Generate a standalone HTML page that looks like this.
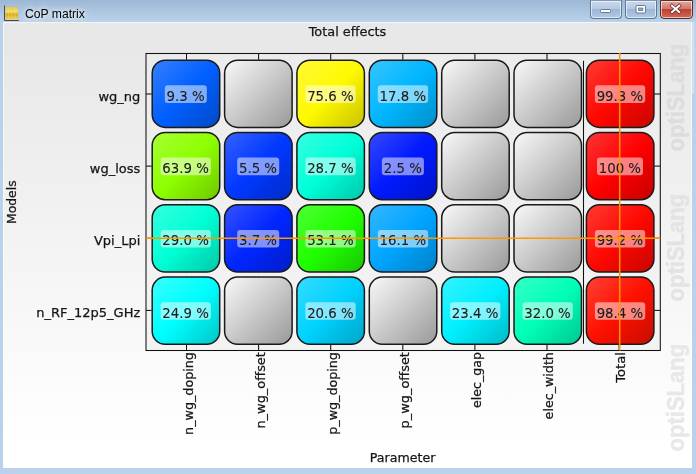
<!DOCTYPE html>
<html><head><meta charset="utf-8"><title>CoP matrix</title>
<style>
html,body{margin:0;padding:0;}
body{width:696px;height:474px;overflow:hidden;background:#b9d1ea;position:relative;font-family:"Liberation Sans",sans-serif;}
#titlebar{position:absolute;left:0;top:0;width:696px;height:22px;background:linear-gradient(#9cb8d6 0,#b9d1ea 21px);}
#title{position:absolute;left:25px;top:5.8px;font-size:12.15px;line-height:16px;color:#000;text-shadow:0 0 5px #fff,0 0 8px #fff;}
#content{position:absolute;left:3px;top:22px;width:689px;height:446.2px;background:linear-gradient(#e8e8e8 0,#e8e8e8 30px,#ffffff 420px);box-shadow:inset 0 0 0 1px rgba(255,255,255,0.55);}
.btn{position:absolute;top:0.4px;height:18.2px;border:1px solid #5f7896;border-top:1px solid #7f98b8;border-radius:0 0 4px 4px;box-sizing:border-box;background:linear-gradient(#c9d9ec 0,#b4c9e2 45%,#9db7d6 50%,#b2c9e3 100%);box-shadow:inset 0 0 0 1px rgba(255,255,255,0.6);}
#bmin{left:589.5px;width:32.4px;}
#bmax{left:624.7px;width:32.2px;}
#bclose{left:660px;width:32.6px;border-color:#5d2a25;background:linear-gradient(#e3a99f 0,#d3786c 45%,#c0402f 50%,#cf6a55 100%);}
svg{position:absolute;left:0;top:0;}
svg text{font-family:"DejaVu Sans","Liberation Sans",sans-serif;font-size:13px;fill:#151515;stroke:#151515;stroke-width:0.25px;}
</style></head><body>
<div id="titlebar"></div>
<div id="content"></div>
<div style="position:absolute;left:692px;top:22px;width:3px;height:72px;background:linear-gradient(90deg,#d3e2f3,#c3d7ee)"></div>
<div id="title">CoP matrix</div>
<div class="btn" id="bmin"></div><div class="btn" id="bmax"></div><div class="btn" id="bclose"></div>
<svg width="696" height="474" viewBox="0 0 696 474">
<defs>
<linearGradient id="ico" x1="0" y1="0" x2="0" y2="1"><stop offset="0" stop-color="#e8c23a"/><stop offset="0.35" stop-color="#f3df6e"/><stop offset="0.6" stop-color="#d9a91e"/><stop offset="1" stop-color="#f0d45a"/></linearGradient>
<linearGradient id="gg" x1="0" y1="0" x2="1" y2="1"><stop offset="0" stop-color="#f9f9f9"/><stop offset="0.5" stop-color="#c9c9c9"/><stop offset="1" stop-color="#999999"/></linearGradient>
<linearGradient id="g0_0" x1="0" y1="0" x2="1" y2="1"><stop offset="0" stop-color="#3680ff"/><stop offset="0.5" stop-color="#005fff"/><stop offset="1" stop-color="#004ac7"/></linearGradient>
<linearGradient id="g0_2" x1="0" y1="0" x2="1" y2="1"><stop offset="0" stop-color="#fffa36"/><stop offset="0.5" stop-color="#fff900"/><stop offset="1" stop-color="#c7c200"/></linearGradient>
<linearGradient id="g0_3" x1="0" y1="0" x2="1" y2="1"><stop offset="0" stop-color="#36c5ff"/><stop offset="0.5" stop-color="#00b6ff"/><stop offset="1" stop-color="#008ec7"/></linearGradient>
<linearGradient id="g0_6" x1="0" y1="0" x2="1" y2="1"><stop offset="0" stop-color="#ff3b36"/><stop offset="0.5" stop-color="#ff0700"/><stop offset="1" stop-color="#c70600"/></linearGradient>
<linearGradient id="g1_0" x1="0" y1="0" x2="1" y2="1"><stop offset="0" stop-color="#a6ff36"/><stop offset="0.5" stop-color="#8eff00"/><stop offset="1" stop-color="#6fc700"/></linearGradient>
<linearGradient id="g1_1" x1="0" y1="0" x2="1" y2="1"><stop offset="0" stop-color="#3662ff"/><stop offset="0.5" stop-color="#0038ff"/><stop offset="1" stop-color="#002cc7"/></linearGradient>
<linearGradient id="g1_2" x1="0" y1="0" x2="1" y2="1"><stop offset="0" stop-color="#36ffe1"/><stop offset="0.5" stop-color="#00ffd9"/><stop offset="1" stop-color="#00c7a9"/></linearGradient>
<linearGradient id="g1_3" x1="0" y1="0" x2="1" y2="1"><stop offset="0" stop-color="#364aff"/><stop offset="0.5" stop-color="#0019ff"/><stop offset="1" stop-color="#0014c7"/></linearGradient>
<linearGradient id="g1_6" x1="0" y1="0" x2="1" y2="1"><stop offset="0" stop-color="#ff3636"/><stop offset="0.5" stop-color="#ff0000"/><stop offset="1" stop-color="#c70000"/></linearGradient>
<linearGradient id="g2_0" x1="0" y1="0" x2="1" y2="1"><stop offset="0" stop-color="#36ffdf"/><stop offset="0.5" stop-color="#00ffd6"/><stop offset="1" stop-color="#00c7a7"/></linearGradient>
<linearGradient id="g2_1" x1="0" y1="0" x2="1" y2="1"><stop offset="0" stop-color="#3653ff"/><stop offset="0.5" stop-color="#0026ff"/><stop offset="1" stop-color="#001dc7"/></linearGradient>
<linearGradient id="g2_2" x1="0" y1="0" x2="1" y2="1"><stop offset="0" stop-color="#4fff36"/><stop offset="0.5" stop-color="#20ff00"/><stop offset="1" stop-color="#19c700"/></linearGradient>
<linearGradient id="g2_3" x1="0" y1="0" x2="1" y2="1"><stop offset="0" stop-color="#36b7ff"/><stop offset="0.5" stop-color="#00a4ff"/><stop offset="1" stop-color="#0080c7"/></linearGradient>
<linearGradient id="g2_6" x1="0" y1="0" x2="1" y2="1"><stop offset="0" stop-color="#ff3c36"/><stop offset="0.5" stop-color="#ff0800"/><stop offset="1" stop-color="#c70600"/></linearGradient>
<linearGradient id="g3_0" x1="0" y1="0" x2="1" y2="1"><stop offset="0" stop-color="#36feff"/><stop offset="0.5" stop-color="#00feff"/><stop offset="1" stop-color="#00c6c7"/></linearGradient>
<linearGradient id="g3_2" x1="0" y1="0" x2="1" y2="1"><stop offset="0" stop-color="#36dcff"/><stop offset="0.5" stop-color="#00d2ff"/><stop offset="1" stop-color="#00a4c7"/></linearGradient>
<linearGradient id="g3_4" x1="0" y1="0" x2="1" y2="1"><stop offset="0" stop-color="#36f2ff"/><stop offset="0.5" stop-color="#00efff"/><stop offset="1" stop-color="#00bac7"/></linearGradient>
<linearGradient id="g3_5" x1="0" y1="0" x2="1" y2="1"><stop offset="0" stop-color="#36ffc7"/><stop offset="0.5" stop-color="#00ffb8"/><stop offset="1" stop-color="#00c78f"/></linearGradient>
<linearGradient id="g3_6" x1="0" y1="0" x2="1" y2="1"><stop offset="0" stop-color="#ff4236"/><stop offset="0.5" stop-color="#ff1000"/><stop offset="1" stop-color="#c70d00"/></linearGradient>
</defs>
<!-- window icon -->
<g>
<rect x="5.5" y="7" width="12.5" height="12.5" fill="url(#ico)"/>
<path d="M8.6 7V19.5M11.7 7V19.5M14.8 7V19.5" stroke="#f6e27a" stroke-width="0.6" fill="none" opacity="0.8"/>
<path d="M4.5 5.5V20.5H18.8" stroke="#4a4a50" stroke-width="1" fill="none"/>
</g>
<!-- caption button glyphs -->
<g>
<rect x="600.5" y="9.5" width="10" height="3" rx="1" fill="#fff" stroke="#4b5f7c" stroke-width="0.8"/>
<rect x="636" y="5.5" width="9.5" height="7.5" rx="1" fill="#fff" stroke="#4b5f7c" stroke-width="0.8"/>
<rect x="638.6" y="8" width="4.3" height="2.6" fill="#8fa8c8" stroke="#4b5f7c" stroke-width="0.6"/>
<path d="M672 5.7L679.2 12M679.2 5.7L672 12" stroke="#5a2620" stroke-width="3.4" stroke-linecap="square" fill="none"/>
<path d="M672 5.7L679.2 12M679.2 5.7L672 12" stroke="#fff" stroke-width="2.1" stroke-linecap="square" fill="none"/>
</g>
<!-- watermark -->
<g style="font-family:'Liberation Sans',sans-serif;font-weight:bold">
<text transform="translate(684.0,151.4) rotate(-90)" textLength="107.6" lengthAdjust="spacingAndGlyphs" style="font-family:'Liberation Sans',sans-serif;font-weight:bold;font-size:23.5px;fill:#dddddd;stroke:#dddddd;stroke-width:0.5px">optiSLang</text>
<text transform="translate(684.0,301.4) rotate(-90)" textLength="107.6" lengthAdjust="spacingAndGlyphs" style="font-family:'Liberation Sans',sans-serif;font-weight:bold;font-size:23.5px;fill:#e3e3e3;stroke:#e3e3e3;stroke-width:0.5px">optiSLang</text>
<text transform="translate(684.0,451.4) rotate(-90)" textLength="107.6" lengthAdjust="spacingAndGlyphs" style="font-family:'Liberation Sans',sans-serif;font-weight:bold;font-size:23.5px;fill:#e8e8e8;stroke:#e8e8e8;stroke-width:0.5px">optiSLang</text>
</g>
<!-- plot frame -->
<rect x="146.0" y="53.5" width="514.3" height="297.0" fill="#efefef" fill-opacity="0.55" stroke="#111" stroke-width="1.05"/>
<g stroke="#000" stroke-opacity="0.035" stroke-width="1">
<line x1="186.5" y1="54.0" x2="186.5" y2="350.0"/>
<line x1="258.6" y1="54.0" x2="258.6" y2="350.0"/>
<line x1="330.7" y1="54.0" x2="330.7" y2="350.0"/>
<line x1="402.8" y1="54.0" x2="402.8" y2="350.0"/>
<line x1="474.9" y1="54.0" x2="474.9" y2="350.0"/>
<line x1="547.0" y1="54.0" x2="547.0" y2="350.0"/>
<line x1="619.1" y1="54.0" x2="619.1" y2="350.0"/>
<line x1="146.5" y1="94.0" x2="660.0" y2="94.0"/>
<line x1="146.5" y1="166.1" x2="660.0" y2="166.1"/>
<line x1="146.5" y1="238.3" x2="660.0" y2="238.3"/>
<line x1="146.5" y1="310.4" x2="660.0" y2="310.4"/>
</g>
<g stroke="#111" stroke-width="1.05">
<line x1="186.5" y1="53.5" x2="186.5" y2="59.7"/>
<line x1="186.5" y1="350.5" x2="186.5" y2="345.0"/>
<line x1="258.6" y1="53.5" x2="258.6" y2="59.7"/>
<line x1="258.6" y1="350.5" x2="258.6" y2="345.0"/>
<line x1="330.7" y1="53.5" x2="330.7" y2="59.7"/>
<line x1="330.7" y1="350.5" x2="330.7" y2="345.0"/>
<line x1="402.8" y1="53.5" x2="402.8" y2="59.7"/>
<line x1="402.8" y1="350.5" x2="402.8" y2="345.0"/>
<line x1="474.9" y1="53.5" x2="474.9" y2="59.7"/>
<line x1="474.9" y1="350.5" x2="474.9" y2="345.0"/>
<line x1="547.0" y1="53.5" x2="547.0" y2="59.7"/>
<line x1="547.0" y1="350.5" x2="547.0" y2="345.0"/>
<line x1="619.1" y1="350.5" x2="619.1" y2="345.0"/>
<line x1="146.0" y1="94.0" x2="151.6" y2="94.0"/>
<line x1="660.3" y1="94.0" x2="654.3" y2="94.0"/>
<line x1="146.0" y1="166.1" x2="151.6" y2="166.1"/>
<line x1="660.3" y1="166.1" x2="654.3" y2="166.1"/>
<line x1="146.0" y1="238.3" x2="151.6" y2="238.3"/>
<line x1="660.3" y1="238.3" x2="654.3" y2="238.3"/>
<line x1="146.0" y1="310.4" x2="151.6" y2="310.4"/>
<line x1="660.3" y1="310.4" x2="654.3" y2="310.4"/>
<line x1="583.5" y1="60.7" x2="583.5" y2="343.8"/>
</g>
<g>
<rect x="152.2" y="60.2" width="67.5" height="67.2" rx="13" ry="13" fill="url(#g0_0)" stroke="#1a1a1a" stroke-width="1.5"/>
<rect x="224.6" y="60.2" width="67.5" height="67.2" rx="13" ry="13" fill="url(#gg)" stroke="#1a1a1a" stroke-width="1.5"/>
<rect x="296.9" y="60.2" width="67.5" height="67.2" rx="13" ry="13" fill="url(#g0_2)" stroke="#1a1a1a" stroke-width="1.5"/>
<rect x="369.3" y="60.2" width="67.5" height="67.2" rx="13" ry="13" fill="url(#g0_3)" stroke="#1a1a1a" stroke-width="1.5"/>
<rect x="441.7" y="60.2" width="67.5" height="67.2" rx="13" ry="13" fill="url(#gg)" stroke="#1a1a1a" stroke-width="1.5"/>
<rect x="514.0" y="60.2" width="67.5" height="67.2" rx="13" ry="13" fill="url(#gg)" stroke="#1a1a1a" stroke-width="1.5"/>
<rect x="586.4" y="60.2" width="67.5" height="67.2" rx="13" ry="13" fill="url(#g0_6)" stroke="#1a1a1a" stroke-width="1.5"/>
<rect x="152.2" y="132.5" width="67.5" height="67.2" rx="13" ry="13" fill="url(#g1_0)" stroke="#1a1a1a" stroke-width="1.5"/>
<rect x="224.6" y="132.5" width="67.5" height="67.2" rx="13" ry="13" fill="url(#g1_1)" stroke="#1a1a1a" stroke-width="1.5"/>
<rect x="296.9" y="132.5" width="67.5" height="67.2" rx="13" ry="13" fill="url(#g1_2)" stroke="#1a1a1a" stroke-width="1.5"/>
<rect x="369.3" y="132.5" width="67.5" height="67.2" rx="13" ry="13" fill="url(#g1_3)" stroke="#1a1a1a" stroke-width="1.5"/>
<rect x="441.7" y="132.5" width="67.5" height="67.2" rx="13" ry="13" fill="url(#gg)" stroke="#1a1a1a" stroke-width="1.5"/>
<rect x="514.0" y="132.5" width="67.5" height="67.2" rx="13" ry="13" fill="url(#gg)" stroke="#1a1a1a" stroke-width="1.5"/>
<rect x="586.4" y="132.5" width="67.5" height="67.2" rx="13" ry="13" fill="url(#g1_6)" stroke="#1a1a1a" stroke-width="1.5"/>
<rect x="152.2" y="204.8" width="67.5" height="67.2" rx="13" ry="13" fill="url(#g2_0)" stroke="#1a1a1a" stroke-width="1.5"/>
<rect x="224.6" y="204.8" width="67.5" height="67.2" rx="13" ry="13" fill="url(#g2_1)" stroke="#1a1a1a" stroke-width="1.5"/>
<rect x="296.9" y="204.8" width="67.5" height="67.2" rx="13" ry="13" fill="url(#g2_2)" stroke="#1a1a1a" stroke-width="1.5"/>
<rect x="369.3" y="204.8" width="67.5" height="67.2" rx="13" ry="13" fill="url(#g2_3)" stroke="#1a1a1a" stroke-width="1.5"/>
<rect x="441.7" y="204.8" width="67.5" height="67.2" rx="13" ry="13" fill="url(#gg)" stroke="#1a1a1a" stroke-width="1.5"/>
<rect x="514.0" y="204.8" width="67.5" height="67.2" rx="13" ry="13" fill="url(#gg)" stroke="#1a1a1a" stroke-width="1.5"/>
<rect x="586.4" y="204.8" width="67.5" height="67.2" rx="13" ry="13" fill="url(#g2_6)" stroke="#1a1a1a" stroke-width="1.5"/>
<rect x="152.2" y="277.1" width="67.5" height="67.2" rx="13" ry="13" fill="url(#g3_0)" stroke="#1a1a1a" stroke-width="1.5"/>
<rect x="224.6" y="277.1" width="67.5" height="67.2" rx="13" ry="13" fill="url(#gg)" stroke="#1a1a1a" stroke-width="1.5"/>
<rect x="296.9" y="277.1" width="67.5" height="67.2" rx="13" ry="13" fill="url(#g3_2)" stroke="#1a1a1a" stroke-width="1.5"/>
<rect x="369.3" y="277.1" width="67.5" height="67.2" rx="13" ry="13" fill="url(#gg)" stroke="#1a1a1a" stroke-width="1.5"/>
<rect x="441.7" y="277.1" width="67.5" height="67.2" rx="13" ry="13" fill="url(#g3_4)" stroke="#1a1a1a" stroke-width="1.5"/>
<rect x="514.0" y="277.1" width="67.5" height="67.2" rx="13" ry="13" fill="url(#g3_5)" stroke="#1a1a1a" stroke-width="1.5"/>
<rect x="586.4" y="277.1" width="67.5" height="67.2" rx="13" ry="13" fill="url(#g3_6)" stroke="#1a1a1a" stroke-width="1.5"/>
</g>
<g>
<rect x="164.8" y="85.3" width="42.0" height="17.6" rx="3" ry="3" fill="#ffffff" fill-opacity="0.5"/>
<text x="185.6" y="100.6" text-anchor="middle" style="font-size:13.3px;stroke-width:0.1px;fill:#1c1c1c">9.3 %</text>
<rect x="305.4" y="85.3" width="50.3" height="17.6" rx="3" ry="3" fill="#ffffff" fill-opacity="0.5"/>
<text x="330.4" y="100.6" text-anchor="middle" style="font-size:13.3px;stroke-width:0.1px;fill:#1c1c1c">75.6 %</text>
<rect x="377.8" y="85.3" width="50.3" height="17.6" rx="3" ry="3" fill="#ffffff" fill-opacity="0.5"/>
<text x="402.8" y="100.6" text-anchor="middle" style="font-size:13.3px;stroke-width:0.1px;fill:#1c1c1c">17.8 %</text>
<rect x="594.9" y="85.3" width="50.3" height="17.6" rx="3" ry="3" fill="#ffffff" fill-opacity="0.5"/>
<text x="619.9" y="100.6" text-anchor="middle" style="font-size:13.3px;stroke-width:0.1px;fill:#1c1c1c">99.3 %</text>
<rect x="160.6" y="157.6" width="50.3" height="17.6" rx="3" ry="3" fill="#ffffff" fill-opacity="0.5"/>
<text x="185.6" y="172.9" text-anchor="middle" style="font-size:13.3px;stroke-width:0.1px;fill:#1c1c1c">63.9 %</text>
<rect x="237.2" y="157.6" width="42.0" height="17.6" rx="3" ry="3" fill="#ffffff" fill-opacity="0.5"/>
<text x="258.0" y="172.9" text-anchor="middle" style="font-size:13.3px;stroke-width:0.1px;fill:#1c1c1c">5.5 %</text>
<rect x="305.4" y="157.6" width="50.3" height="17.6" rx="3" ry="3" fill="#ffffff" fill-opacity="0.5"/>
<text x="330.4" y="172.9" text-anchor="middle" style="font-size:13.3px;stroke-width:0.1px;fill:#1c1c1c">28.7 %</text>
<rect x="381.9" y="157.6" width="42.0" height="17.6" rx="3" ry="3" fill="#ffffff" fill-opacity="0.5"/>
<text x="402.8" y="172.9" text-anchor="middle" style="font-size:13.3px;stroke-width:0.1px;fill:#1c1c1c">2.5 %</text>
<rect x="597.0" y="157.6" width="46.0" height="17.6" rx="3" ry="3" fill="#ffffff" fill-opacity="0.5"/>
<text x="619.9" y="172.9" text-anchor="middle" style="font-size:13.3px;stroke-width:0.1px;fill:#1c1c1c">100 %</text>
<rect x="160.6" y="229.9" width="50.3" height="17.6" rx="3" ry="3" fill="#ffffff" fill-opacity="0.5"/>
<text x="185.6" y="245.2" text-anchor="middle" style="font-size:13.3px;stroke-width:0.1px;fill:#1c1c1c">29.0 %</text>
<rect x="237.2" y="229.9" width="42.0" height="17.6" rx="3" ry="3" fill="#ffffff" fill-opacity="0.5"/>
<text x="258.0" y="245.2" text-anchor="middle" style="font-size:13.3px;stroke-width:0.1px;fill:#1c1c1c">3.7 %</text>
<rect x="305.4" y="229.9" width="50.3" height="17.6" rx="3" ry="3" fill="#ffffff" fill-opacity="0.5"/>
<text x="330.4" y="245.2" text-anchor="middle" style="font-size:13.3px;stroke-width:0.1px;fill:#1c1c1c">53.1 %</text>
<rect x="377.8" y="229.9" width="50.3" height="17.6" rx="3" ry="3" fill="#ffffff" fill-opacity="0.5"/>
<text x="402.8" y="245.2" text-anchor="middle" style="font-size:13.3px;stroke-width:0.1px;fill:#1c1c1c">16.1 %</text>
<rect x="594.9" y="229.9" width="50.3" height="17.6" rx="3" ry="3" fill="#ffffff" fill-opacity="0.5"/>
<text x="619.9" y="245.2" text-anchor="middle" style="font-size:13.3px;stroke-width:0.1px;fill:#1c1c1c">99.2 %</text>
<rect x="160.6" y="302.2" width="50.3" height="17.6" rx="3" ry="3" fill="#ffffff" fill-opacity="0.5"/>
<text x="185.6" y="317.5" text-anchor="middle" style="font-size:13.3px;stroke-width:0.1px;fill:#1c1c1c">24.9 %</text>
<rect x="305.4" y="302.2" width="50.3" height="17.6" rx="3" ry="3" fill="#ffffff" fill-opacity="0.5"/>
<text x="330.4" y="317.5" text-anchor="middle" style="font-size:13.3px;stroke-width:0.1px;fill:#1c1c1c">20.6 %</text>
<rect x="450.1" y="302.2" width="50.3" height="17.6" rx="3" ry="3" fill="#ffffff" fill-opacity="0.5"/>
<text x="475.1" y="317.5" text-anchor="middle" style="font-size:13.3px;stroke-width:0.1px;fill:#1c1c1c">23.4 %</text>
<rect x="522.5" y="302.2" width="50.3" height="17.6" rx="3" ry="3" fill="#ffffff" fill-opacity="0.5"/>
<text x="547.5" y="317.5" text-anchor="middle" style="font-size:13.3px;stroke-width:0.1px;fill:#1c1c1c">32.0 %</text>
<rect x="594.9" y="302.2" width="50.3" height="17.6" rx="3" ry="3" fill="#ffffff" fill-opacity="0.5"/>
<text x="619.9" y="317.5" text-anchor="middle" style="font-size:13.3px;stroke-width:0.1px;fill:#1c1c1c">98.4 %</text>
</g>
<!-- crosshair -->
<line x1="146" y1="238.3" x2="660.5" y2="238.3" stroke="#ff9800" stroke-width="1.5"/>
<line x1="619.7" y1="53" x2="619.7" y2="350.5" stroke="#ff9800" stroke-width="1.5"/>
<!-- axis text -->
<g>
<text transform="translate(192.5,352.1) rotate(-90)" text-anchor="end" textLength="82.8" lengthAdjust="spacingAndGlyphs">n_wg_doping</text>
<text transform="translate(264.6,352.1) rotate(-90)" text-anchor="end" textLength="76.5" lengthAdjust="spacingAndGlyphs">n_wg_offset</text>
<text transform="translate(336.7,352.1) rotate(-90)" text-anchor="end" textLength="82.6" lengthAdjust="spacingAndGlyphs">p_wg_doping</text>
<text transform="translate(408.8,352.1) rotate(-90)" text-anchor="end" textLength="76.3" lengthAdjust="spacingAndGlyphs">p_wg_offset</text>
<text transform="translate(480.9,352.1) rotate(-90)" text-anchor="end" textLength="55.8" lengthAdjust="spacingAndGlyphs">elec_gap</text>
<text transform="translate(553.0,352.1) rotate(-90)" text-anchor="end" textLength="67.3" lengthAdjust="spacingAndGlyphs">elec_width</text>
<text transform="translate(625.1,352.1) rotate(-90)" text-anchor="end" textLength="30.6" lengthAdjust="spacingAndGlyphs">Total</text>
<text x="140.3" y="100.5" text-anchor="end">wg_ng</text>
<text x="140.3" y="172.6" text-anchor="end">wg_loss</text>
<text x="140.3" y="244.8" text-anchor="end">Vpi_Lpi</text>
<text x="140.3" y="316.9" text-anchor="end">n_RF_12p5_GHz</text>
<text x="347.5" y="36.1" text-anchor="middle" textLength="77.6" lengthAdjust="spacingAndGlyphs">Total effects</text>
<text x="402.6" y="462.0" text-anchor="middle" style="font-size:12.6px">Parameter</text>
<text transform="translate(16.4,202.2) rotate(-90)" text-anchor="middle" textLength="43.6" lengthAdjust="spacingAndGlyphs">Models</text>
</g>
</svg>
</body></html>
